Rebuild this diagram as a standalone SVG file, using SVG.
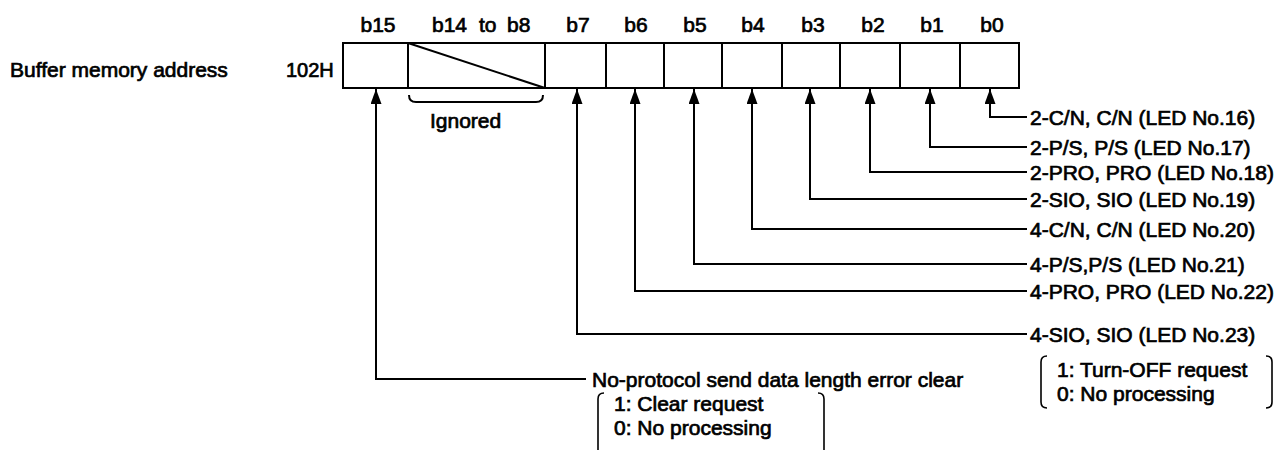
<svg xmlns="http://www.w3.org/2000/svg" width="1281" height="450" viewBox="0 0 1281 450">
<style>
text{font-family:"Liberation Sans",Arial,sans-serif;font-size:21px;fill:#000;stroke:#000;stroke-width:0.7}
.bit{text-anchor:middle}
.box{fill:#fff;stroke:#000;stroke-width:2}
.ln{fill:none;stroke:#000;stroke-width:2}
.conn{fill:none;stroke:#000;stroke-width:2;marker-end:url(#arr)}
.br{fill:none;stroke:#000;stroke-width:1.6}
</style>
<defs>
<marker id="arr" viewBox="0 0 15 11" refX="15" refY="5.5" markerWidth="15" markerHeight="11" markerUnits="userSpaceOnUse" orient="auto">
<path d="M0,0 L15,5.5 L0,11 z" fill="#000"/>
</marker>
</defs>
<rect width="1281" height="450" fill="#fff"/>
<g id="title">
<text x="10" y="77">Buffer memory address</text>
<text x="286" y="77" style="font-size:20px">102H</text>
</g>
<g id="bit-labels">
<text class="bit" x="378" y="32">b15</text>
<text y="32"><tspan x="432">b14 </tspan><tspan x="479">to </tspan><tspan x="507">b8</tspan></text>
<text class="bit" x="578" y="32">b7</text>
<text class="bit" x="636" y="32">b6</text>
<text class="bit" x="695" y="32">b5</text>
<text class="bit" x="753" y="32">b4</text>
<text class="bit" x="813" y="32">b3</text>
<text class="bit" x="873" y="32">b2</text>
<text class="bit" x="932" y="32">b1</text>
<text class="bit" x="992" y="32">b0</text>
</g>
<g id="register">
<rect class="box" x="343" y="43" width="676" height="45"/>
<path class="ln" d="M408,43V88 M545,43V88 M606,43V88 M664,43V88 M722,43V88 M782,43V88 M840,43V88 M900,43V88 M960,43V88"/>
<path class="ln" d="M408,43 L545,88"/>
</g>
<g id="ignored">
<path class="ln" d="M409,95 q0,7 7,7 H536 q7,0 7,-7"/>
<text x="430" y="128">Ignored</text>
</g>
<g id="connectors">
<path class="conn" d="M1027,117 H990 V89"/>
<path class="conn" d="M1027,147 H930 V89"/>
<path class="conn" d="M1027,172 H870 V89"/>
<path class="conn" d="M1027,199 H810 V89"/>
<path class="conn" d="M1027,229 H752 V89"/>
<path class="conn" d="M1027,264 H694 V89"/>
<path class="conn" d="M1027,291 H635 V89"/>
<path class="conn" d="M1027,334 H577 V89"/>
<path class="conn" d="M586,379 H376 V89"/>
</g>
<g id="bit-descriptions">
<text x="1030" y="125">2-C/N, C/N (LED No.16)</text>
<text x="1030" y="155">2-P/S, P/S (LED No.17)</text>
<text x="1030" y="180">2-PRO, PRO (LED No.18)</text>
<text x="1030" y="207">2-SIO, SIO (LED No.19)</text>
<text x="1030" y="237">4-C/N, C/N (LED No.20)</text>
<text x="1030" y="272">4-P/S,P/S (LED No.21)</text>
<text x="1030" y="299">4-PRO, PRO (LED No.22)</text>
<text x="1030" y="342">4-SIO, SIO (LED No.23)</text>
</g>
<g id="led-values">
<path class="br" d="M1047,356 q-6,0 -6,6 V402 q0,6 6,6 M1266,356 q6,0 6,6 V402 q0,6 -6,6"/>
<text x="1057" y="377">1: Turn-OFF request</text>
<text x="1057" y="401">0: No processing</text>
</g>
<g id="clear-desc">
<text x="592" y="387">No-protocol send data length error clear</text>
<path class="br" d="M604,393 q-6,0 -6,6 V452 M818,393 q6,0 6,6 V452"/>
<text x="614" y="411">1: Clear request</text>
<text x="614" y="435">0: No processing</text>
</g>
</svg>
